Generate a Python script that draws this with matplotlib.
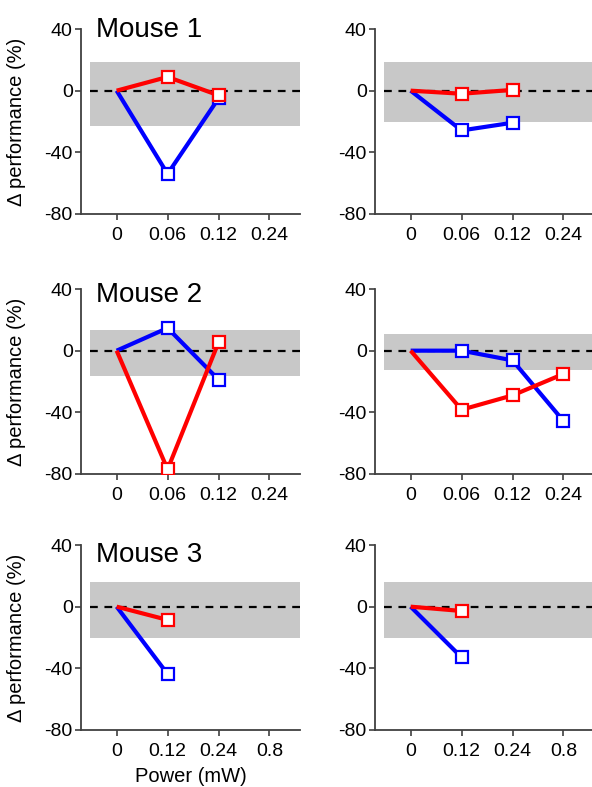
import numpy as np
import matplotlib
matplotlib.use("Agg")
import matplotlib.pyplot as plt

plt.rcParams['font.family'] = ['Liberation Sans', 'DejaVu Sans']

# tick labels per row
labels_a = ['0', '0.06', '0.12', '0.24']
labels_b = ['0', '0.12', '0.24', '0.8']

# shaded band (low, high) for each panel
bands = [(-22.7, 18.8), (-20.6, 18.4),
         (-16.2, 13.6), (-12.5, 10.6),
         (-20.5, 15.8), (-20.5, 15.8)]

# values at each power step (first point is the 0 baseline)
blue = [[0, -54, -5], [0, -25.8, -20.8],
        [0, 14.7, -18.8], [0, 0, -6.3, -45.6],
        [0, -43.7], [0, -32.9]]
red = [[0, 8.9, -3], [0, -2, 0.5],
       [0, -77, 5.4], [0, -38.3, -29, -15.1],
       [0, -8.6], [0, -2.8]]

titles = ['Mouse 1', None, 'Mouse 2', None, 'Mouse 3', None]
title_y = [37, None, 302, None, 562, None]

W, H = 592, 787
fig = plt.figure(figsize=(W / 100, H / 100), dpi=100)

rows_top = [29, 289, 545]
ax_h = 185
cols_left = [81, 375]
ax_w = 219
spine_col = '#404040'

for i in range(6):
    r, c = divmod(i, 2)
    left = cols_left[c] / W
    bottom = 1 - (rows_top[r] + ax_h) / H
    ax = fig.add_axes([left, bottom, ax_w / W, ax_h / H])
    ticklabels = labels_b if r == 2 else labels_a

    lo, hi = bands[i]
    ax.axhspan(lo, hi, xmin=0.041, xmax=1, color='#c8c8c8', lw=0, zorder=0)
    ax.axhline(0, xmin=0.041, xmax=1, color='black', lw=1.6,
               dashes=(3.5, 3), zorder=1)

    xb = np.arange(len(blue[i]))
    xr = np.arange(len(red[i]))
    ax.plot(xb, blue[i], color='#0000ff', lw=3, zorder=2, solid_capstyle='butt')
    ax.plot(xr, red[i], color='#ff0000', lw=3, zorder=3, solid_capstyle='butt')
    ax.plot(xb[1:], blue[i][1:], ls='none', marker='s', ms=9, mfc='white',
            mec='#0000ff', mew=1.6, zorder=4)
    ax.plot(xr[1:], red[i][1:], ls='none', marker='s', ms=9, mfc='white',
            mec='#ff0000', mew=1.6, zorder=5)

    ax.set_xlim(-0.7, 3.6)
    ax.set_ylim(-80, 40)
    ax.set_yticks([-80, -40, 0, 40])
    ax.set_yticklabels(['-80', '-40', '0', '40'])
    ax.set_xticks(range(4))
    ax.set_xticklabels(ticklabels)
    for s in ['top', 'right']:
        ax.spines[s].set_visible(False)
    for s in ['left', 'bottom']:
        ax.spines[s].set_color(spine_col)
        ax.spines[s].set_linewidth(1.3)
    ax.tick_params(axis='both', direction='out', length=4, width=1.2,
                   color=spine_col, labelsize=14, pad=2)
    ax.tick_params(axis='x', pad=5)

    if c == 0:
        ax.set_ylabel('\u0394 performance (%)', fontsize=14.5)
        ax.yaxis.set_label_coords(-0.25, 0.5)
    if titles[i]:
        fig.text(96 / W, 1 - title_y[i] / H, titles[i], fontsize=20,
                 va='baseline', ha='left')
    if i == 4:
        ax.set_xlabel('Power (mW)', fontsize=14.5)
        ax.xaxis.set_label_coords(0.5, -0.2)

fig.savefig('out.png', dpi=100)
